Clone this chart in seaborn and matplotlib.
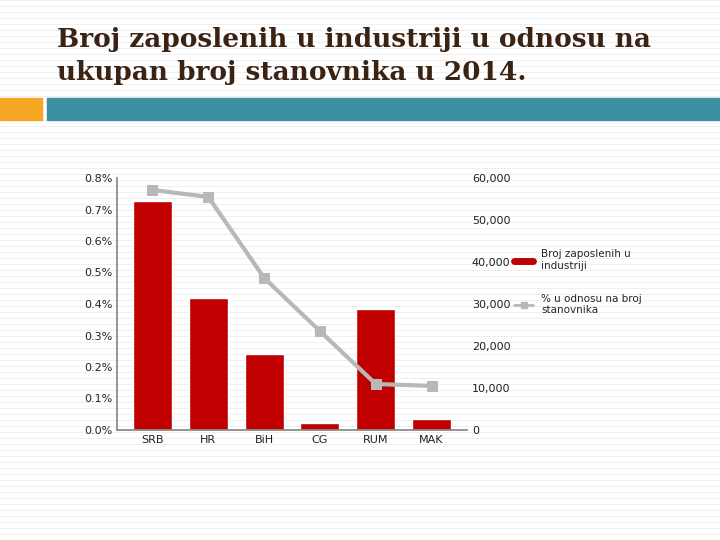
import matplotlib
matplotlib.use("Agg")
import matplotlib.pyplot as plt
import matplotlib.patches as mpatches
from matplotlib.lines import Line2D
from matplotlib.ticker import FuncFormatter
import seaborn as sb
import pandas as pd

# Podaci
zemlje = ["SRB", "HR", "BiH", "CG", "RUM", "MAK"]
zaposleni = [54500, 31400, 18100, 1700, 28800, 2600]
postotak = [0.762, 0.740, 0.483, 0.314, 0.146, 0.140]

df = pd.DataFrame({"zemlja": zemlje, "zaposleni": zaposleni, "postotak": postotak})

sb.set_theme(style="white")
fig = plt.figure(figsize=(7.2, 5.4), dpi=100)
fig.patch.set_facecolor("white")

# pozadina slajda - tanke vodoravne linije
bg = fig.add_axes([0, 0, 1, 1], zorder=-5)
bg.set_xlim(0, 720); bg.set_ylim(540, 0); bg.axis("off")
for y in range(0, 540, 6):
    bg.axhline(y, color="#ececec", lw=0.6, zorder=0)
bg.add_patch(mpatches.Rectangle((0, 98), 42, 22, color="#f5a623", zorder=2))
bg.add_patch(mpatches.Rectangle((47, 98), 673, 22, color="#3a8fa0", zorder=2))
bg.text(57, 56, "Broj zaposlenih u industriji u odnosu na\nukupan broj stanovnika u 2014.",
        fontsize=19, family="DejaVu Serif", fontweight="bold", color="#3b2314",
        va="center", ha="left", linespacing=1.4)

ax = fig.add_axes([117/720, 1 - 430/540, (467 - 117)/720, (430 - 178)/540])
ax.set_facecolor("none")
sb.barplot(data=df, x="zemlja", y="zaposleni", color="#c00000", width=0.7,
           saturation=1, ax=ax, zorder=2)

ax2 = ax.twinx()
sb.lineplot(data=df, x="zemlja", y="postotak", color="#b8b8b8", lw=3, marker="s",
            markersize=7, markeredgecolor="#b8b8b8", ax=ax2, sort=False, zorder=3)

# brojevi desno, postotci lijevo
ax.set_ylim(0, 60000)
ax.yaxis.tick_right()
ax.set_yticks(range(0, 60001, 10000))
ax.yaxis.set_major_formatter(FuncFormatter(lambda v, p: f"{int(v):,}"))
ax.set_xlabel(""); ax.set_ylabel("")

ax2.yaxis.tick_left()
ax2.set_ylim(0, 0.8)
ax2.set_yticks([i / 10 for i in range(9)])
ax2.yaxis.set_major_formatter(FuncFormatter(lambda v, p: f"{v:.1f}%"))
ax2.set_xlabel(""); ax2.set_ylabel("")

for a in (ax, ax2):
    for s in a.spines.values():
        s.set_visible(False)
    a.tick_params(labelsize=8, colors="#222222", length=0)
ax.tick_params(axis="x", labelsize=8)
ax.spines["bottom"].set_visible(True)
ax.spines["bottom"].set_color("#888888")
ax2.spines["left"].set_visible(True)
ax2.spines["left"].set_color("#888888")

handles = [Line2D([0], [0], color="#c00000", lw=5),
           Line2D([0], [0], color="#b8b8b8", lw=2, marker="s", markersize=4)]
fig.legend(handles, ["Broj zaposlenih u\nindustriji", "% u odnosu na broj\nstanovnika"],
           loc="upper left", bbox_to_anchor=(505/720, 1 - 240/540), frameon=False,
           fontsize=7.5, handlelength=1.8, labelspacing=2.2)

fig.savefig("out.png", dpi=100)
